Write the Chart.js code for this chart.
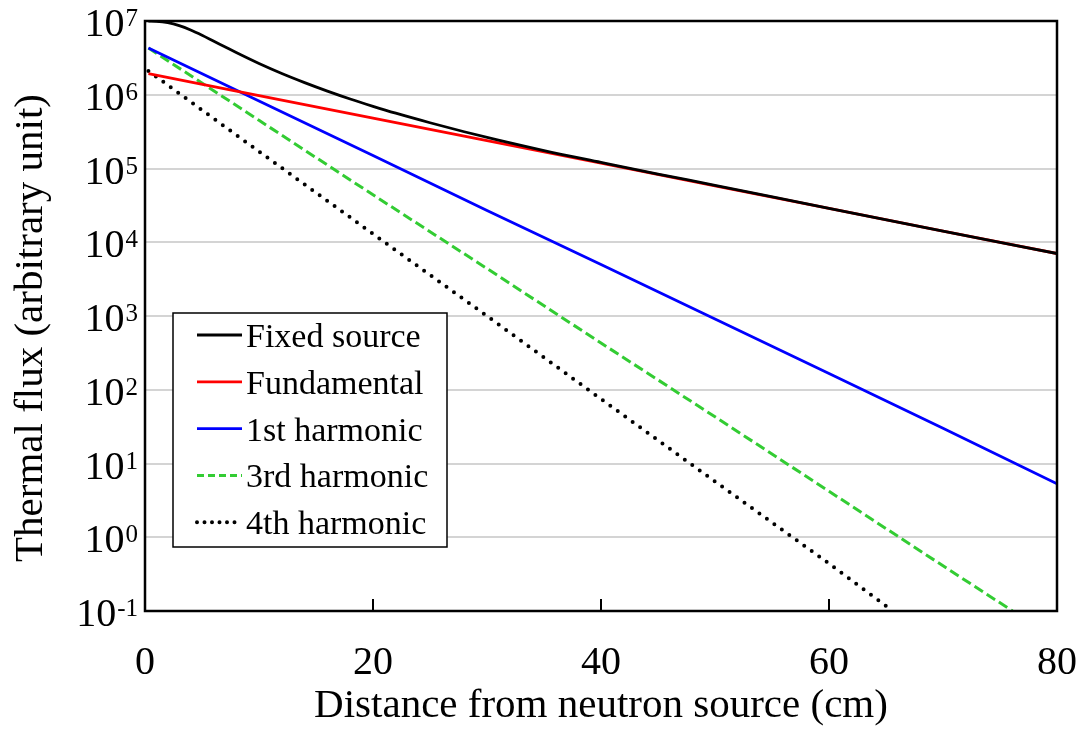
<!DOCTYPE html>
<html>
<head>
<meta charset="utf-8">
<script src="https://cdn.jsdelivr.net/npm/chart.js@4.4.1/dist/chart.umd.min.js"></script>
<style>
  html, body { margin: 0; padding: 0; background: #fff; }
  #wrap { width: 1088px; height: 737px; }
</style>
</head>
<body>
<div id="wrap"><canvas id="flux_chart"></canvas></div>
<script>
// values (distance in cm, flux in arbitrary unit)
const xFixed = [0.3, 1, 2, 3, 4, 5, 6, 7, 8, 10, 12, 14, 16, 18, 20, 22, 25, 28, 31, 35, 40, 45, 50, 60, 70, 80];
const fixedSource = [1.0e7, 9.92e6, 9.47e6, 8.64e6, 7.56e6, 6.42e6, 5.36e6, 4.47e6, 3.73e6, 2.65e6, 1.94e6, 1.46e6,
  1.12e6, 8.75e5, 6.97e5, 5.62e5, 4.17e5, 3.15e5, 2.42e5, 1.75e5, 1.21e5, 8.41e4, 5.92e4, 2.88e4, 1.42e4, 7.03e3];

const xModes = [0.3, 10, 20, 30, 40, 50, 60, 70, 80];
const fundamental = [1.93e6, 9.75e5, 4.82e5, 2.38e5, 1.18e5, 5.82e4, 2.88e4, 1.42e4, 7.03e3];
const harmonic1 = [4.3e6, 8.2e5, 1.5e5, 2.7e4, 5.0e3, 910, 166, 30, 5.3];

const x3rd = [0.3, 10, 20, 30, 40, 50, 60, 70, 76.1];
const harmonic3 = [4.3e6, 4.5e5, 4.4e4, 4.4e3, 430, 43, 4.2, 0.41, 0.1];

const x4th = [0.3, 10, 20, 30, 40, 50, 60, 65.6];
const harmonic4 = [2.1e6, 1.7e5, 1.3e4, 1.0e3, 75, 5.7, 0.44, 0.1];

const xTickValues = [0, 20, 40, 60, 80];
const yTickValues = [0.1, 1, 10, 100, 1e3, 1e4, 1e5, 1e6, 1e7];

const xTitle = "Distance from neutron source (cm)";
const yTitle = "Thermal flux (arbitrary unit)";

const serif = "'Liberation Serif', 'Times New Roman', serif";

function pts(xs, ys) {
  return xs.map((x, i) => ({ x: x, y: ys[i] }));
}

// frame, inward x ticks, y labels with exponents, y title, legend
const decorations = {
  id: "decorations",
  afterDatasetsDraw(chart) {
    const ctx = chart.ctx;
    const area = chart.chartArea;
    const xs = chart.scales.x;
    const ys = chart.scales.y;
    ctx.save();

    // tick marks pointing up from the x axis
    ctx.strokeStyle = "#000";
    ctx.lineWidth = 2;
    xTickValues.forEach(v => {
      const px = xs.getPixelForValue(v);
      ctx.beginPath();
      ctx.moveTo(px, area.bottom);
      ctx.lineTo(px, area.bottom - 12);
      ctx.stroke();
    });

    // plot frame
    ctx.lineWidth = 2.5;
    ctx.strokeRect(area.left, area.top, area.right - area.left, area.bottom - area.top);

    // y tick labels: 10 with superscript power
    ctx.fillStyle = "#000";
    ctx.textBaseline = "alphabetic";
    yTickValues.forEach(v => {
      const py = ys.getPixelForValue(v);
      const power = String(Math.round(Math.log10(v)));
      const rightEdge = area.left - 7;
      ctx.font = "25px " + serif;
      ctx.textAlign = "right";
      ctx.fillText(power, rightEdge, py + 5);
      const pw = ctx.measureText(power).width;
      ctx.font = "40px " + serif;
      ctx.fillText("10", rightEdge - pw - 1, py + 15);
    });

    // y axis title
    ctx.save();
    ctx.translate(42, (area.top + area.bottom) / 2 + 12);
    ctx.rotate(-Math.PI / 2);
    ctx.font = "41px " + serif;
    ctx.textAlign = "center";
    ctx.fillText(yTitle, 0, 0);
    ctx.restore();

    // legend
    const lx = area.left + 28;
    const ly = area.top + 292;
    const lw = 274;
    const lh = 234;
    ctx.fillStyle = "#fff";
    ctx.fillRect(lx, ly, lw, lh);
    ctx.lineWidth = 1.5;
    ctx.strokeStyle = "#000";
    ctx.strokeRect(lx, ly, lw, lh);
    ctx.font = "34px " + serif;
    ctx.textAlign = "left";
    chart.data.datasets.forEach((ds, i) => {
      const rowY = ly + 22 + i * 46.8;
      ctx.save();
      ctx.strokeStyle = ds.borderColor;
      ctx.lineWidth = ds.borderWidth;
      ctx.lineCap = ds.borderCapStyle || "butt";
      ctx.setLineDash(ds.legendDash || []);
      ctx.beginPath();
      ctx.moveTo(lx + 24, rowY);
      ctx.lineTo(lx + 69, rowY);
      ctx.stroke();
      ctx.restore();
      ctx.fillStyle = "#000";
      ctx.fillText(ds.label, lx + 73, rowY + 12);
    });

    ctx.restore();
  }
};

const flux_ctx = document.getElementById("flux_chart");

const flux_chart = new Chart(flux_ctx, {
  type: "line",
  data: {
    datasets: [
      {
        label: "Fixed source",
        data: pts(xFixed, fixedSource),
        borderColor: "#000000",
        borderWidth: 2.8,
        cubicInterpolationMode: "monotone",
      },
      {
        label: "Fundamental",
        data: pts(xModes, fundamental),
        borderColor: "#ff0000",
        borderWidth: 2.8,
      },
      {
        label: "1st harmonic",
        data: pts(xModes, harmonic1),
        borderColor: "#0000ff",
        borderWidth: 2.8,
      },
      {
        label: "3rd harmonic",
        data: pts(x3rd, harmonic3),
        borderColor: "#33cc33",
        borderWidth: 3,
        borderDash: [10, 4.5],
        legendDash: [7, 4],
      },
      {
        label: "4th harmonic",
        data: pts(x4th, harmonic4),
        borderColor: "#000000",
        borderWidth: 4,
        borderDash: [0, 9.2],
        borderCapStyle: "round",
        legendDash: [0, 7.5],
      },
    ],
  },
  options: {
    responsive: true,
    maintainAspectRatio: false,
    animation: false,
    devicePixelRatio: 1,
    layout: { padding: { left: 0, right: 31, top: 21, bottom: 0 } },
    elements: { point: { radius: 0 }, line: { tension: 0 } },
    plugins: {
      legend: { display: false },
      tooltip: { enabled: false },
    },
    scales: {
      x: {
        type: "linear",
        min: 0,
        max: 80,
        afterBuildTicks: scale => {
          scale.ticks = xTickValues.map(v => ({ value: v }));
        },
        afterFit: scale => {
          scale.height = 126;
          scale.paddingLeft = 0;
          scale.paddingRight = 0;
        },
        grid: { display: false },
        border: { display: false },
        ticks: {
          color: "#000",
          padding: 20,
          maxRotation: 0,
          font: { family: serif, size: 40 },
        },
        title: {
          display: true,
          text: xTitle,
          color: "#000",
          font: { family: serif, size: 41 },
          padding: { top: 0, bottom: 6 },
        },
      },
      y: {
        type: "logarithmic",
        min: 0.1,
        max: 1e7,
        afterBuildTicks: scale => {
          scale.ticks = yTickValues.map(v => ({ value: v }));
        },
        afterFit: scale => {
          scale.width = 145;
        },
        grid: { color: "#d4d4d4", lineWidth: 2, drawTicks: false },
        border: { display: false },
        ticks: { display: false },
      },
    },
  },
  plugins: [decorations],
});
</script>
</body>
</html>
